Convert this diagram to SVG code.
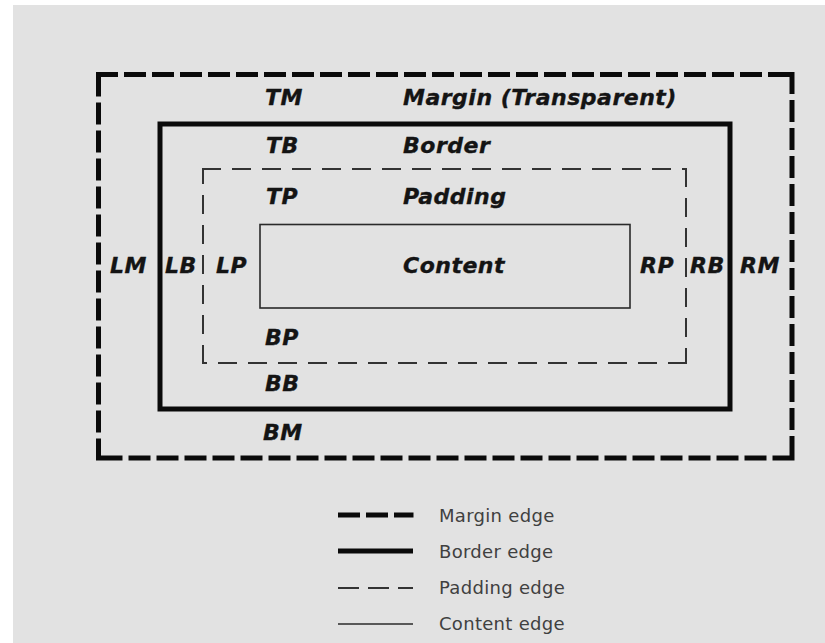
<svg xmlns="http://www.w3.org/2000/svg" width="825" height="643" viewBox="0 0 825 643">
  <style>
    .lbl { font-family: "DejaVu Sans", Verdana, sans-serif; font-weight: bold; font-style: italic; font-size: 22px; letter-spacing: 0.5px; fill: #141414; stroke: #141414; stroke-width: 0.35; }
    .leg { font-family: "DejaVu Sans", Verdana, sans-serif; font-size: 18px; letter-spacing: 0.3px; fill: #404040; }
    .margin-edge { fill: none; stroke: #0a0a0a; stroke-width: 5; stroke-linecap: square; stroke-dasharray: 17 11; }
    .border-edge { fill: none; stroke: #0a0a0a; stroke-width: 5; }
    .padding-edge { fill: none; stroke: #333; stroke-width: 2; stroke-linecap: square; stroke-dasharray: 17 13; }
    .content-edge { fill: none; stroke: #2a2a2a; stroke-width: 1.6; }
  </style>

  <!-- page background -->
  <rect x="0" y="0" width="825" height="643" fill="#ffffff"/>
  <rect x="13" y="5" width="812" height="638" fill="#e2e2e2"/>

  <!-- box model layers, outermost first; dashed sides are separate subpaths so each corner starts a dash -->
  <g id="margin">
    <path class="margin-edge" d="M98.5,74.5 H792 M792,74.5 V458 M792,458 H98.5 M98.5,458 V74.5"/>
    <text class="lbl" x="265" y="105">TM</text>
    <text class="lbl" x="403" y="105">Margin (Transparent)</text>
    <text class="lbl" x="110" y="273">LM</text>
    <text class="lbl" x="740" y="273">RM</text>
    <text class="lbl" x="263" y="440">BM</text>
  </g>

  <g id="border">
    <rect class="border-edge" x="160" y="124" width="570" height="285"/>
    <text class="lbl" x="266" y="153">TB</text>
    <text class="lbl" x="403" y="153">Border</text>
    <text class="lbl" x="165" y="273">LB</text>
    <text class="lbl" x="690" y="273">RB</text>
    <text class="lbl" x="265" y="391">BB</text>
  </g>

  <g id="padding">
    <path class="padding-edge" d="M203,169 H686 M686,169 V363 M686,363 H203 M203,363 V169"/>
    <text class="lbl" x="266" y="204">TP</text>
    <text class="lbl" x="403" y="204">Padding</text>
    <text class="lbl" x="216" y="273">LP</text>
    <text class="lbl" x="640" y="273">RP</text>
    <text class="lbl" x="265" y="345">BP</text>
  </g>

  <g id="content">
    <rect class="content-edge" x="260" y="224.5" width="370" height="83.5"/>
    <text class="lbl" x="403" y="273">Content</text>
  </g>

  <!-- key for the four edge styles -->
  <g id="legend">
    <line class="margin-edge" x1="340.5" y1="515" x2="411" y2="515"/>
    <text class="leg" x="439" y="522">Margin edge</text>
    <line class="border-edge" x1="338" y1="551" x2="413" y2="551"/>
    <text class="leg" x="439" y="558">Border edge</text>
    <line class="padding-edge" x1="339" y1="588" x2="412" y2="588" style="stroke-dasharray: 19 11"/>
    <text class="leg" x="439" y="594">Padding edge</text>
    <line class="content-edge" x1="338" y1="624" x2="413" y2="624"/>
    <text class="leg" x="439" y="630">Content edge</text>
  </g>
</svg>
